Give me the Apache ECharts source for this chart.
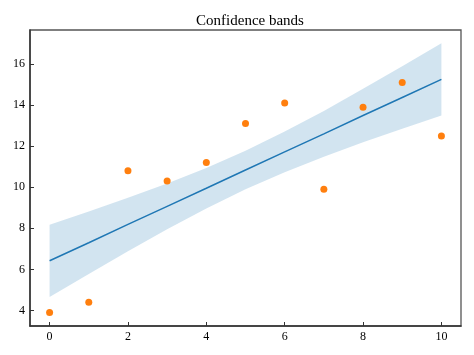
<!DOCTYPE html>
<html>
<head>
<meta charset="utf-8">
<script src="https://cdn.jsdelivr.net/npm/echarts@6/dist/echarts.min.js"></script>
<style>html,body{margin:0;padding:0;background:#fff}#c{width:474px;height:355px}</style>
</head>
<body>
<div id="c"></div>
<script>
const xs = [0, 1, 2, 3, 4, 5, 6, 7, 8, 9, 10];
const observed = [3.9, 4.4, 10.8, 10.3, 11.2, 13.1, 14.1, 9.9, 13.9, 15.1, 12.5];
const fitted = [6.42, 7.30, 8.19, 9.07, 9.95, 10.84, 11.72, 12.60, 13.49, 14.37, 15.25];
const upperBand = [8.18, 8.82, 9.49, 10.18, 10.94, 11.78, 12.71, 13.71, 14.79, 15.89, 17.01];
const lowerBand = [4.66, 5.78, 6.89, 7.96, 8.96, 9.90, 10.73, 11.49, 12.19, 12.85, 13.49];
const xTicks = [0, 2, 4, 6, 8, 10];
const yTicks = [4, 6, 8, 10, 12, 14, 16];
const titleText = 'Confidence bands';

const font = 'Liberation Serif, Times New Roman, serif';
const chart = echarts.init(document.getElementById('c'), null, {renderer: 'canvas'});
chart.setOption({
  animation: false,
  backgroundColor: '#fff',
  title: {
    text: titleText, left: 245, top: 9, textAlign: 'center',
    textStyle: {fontFamily: font, fontSize: 15, fontWeight: 'normal', color: '#000'}
  },
  grid: {left: 30, right: 13, top: 30, bottom: 29, show: true, borderColor: '#555', borderWidth: 1.3, backgroundColor: 'transparent'},
  xAxis: {
    type: 'value', min: -0.5, max: 10.5,
    axisLine: {show: true, onZero: false, lineStyle: {color: '#333', width: 1.5}},
    splitLine: {show: false},
    axisTick: {show: true, inside: true, length: 4, customValues: xTicks, lineStyle: {color: '#333'}},
    axisLabel: {customValues: xTicks, fontFamily: font, fontSize: 12, color: '#000', margin: 5}
  },
  yAxis: {
    type: 'value', min: 3.245, max: 17.655,
    axisLine: {show: true, onZero: false, lineStyle: {color: '#333', width: 1.5}},
    splitLine: {show: false},
    axisTick: {show: true, inside: true, length: 4, customValues: yTicks, lineStyle: {color: '#333'}},
    axisLabel: {customValues: yTicks, fontFamily: font, fontSize: 12, color: '#000', margin: 5}
  },
  series: [
    {
      type: 'custom', silent: true, z: 1,
      data: [0],
      renderItem: function (params, api) {
        const pts = [];
        for (let i = 0; i < xs.length; i++) pts.push(api.coord([xs[i], upperBand[i]]));
        for (let i = xs.length - 1; i >= 0; i--) pts.push(api.coord([xs[i], lowerBand[i]]));
        return {type: 'polygon', shape: {points: pts}, style: {fill: 'rgba(31,119,180,0.2)'}};
      }
    },
    {
      type: 'line', symbol: 'none',
      lineStyle: {color: '#1f77b4', width: 1.5},
      data: xs.map((x, i) => [x, fitted[i]]), z: 2
    },
    {
      type: 'scatter', symbolSize: 7,
      itemStyle: {color: '#ff7f0e', opacity: 1},
      data: xs.map((x, i) => [x, observed[i]]), z: 3
    }
  ]
});
</script>
</body>
</html>
